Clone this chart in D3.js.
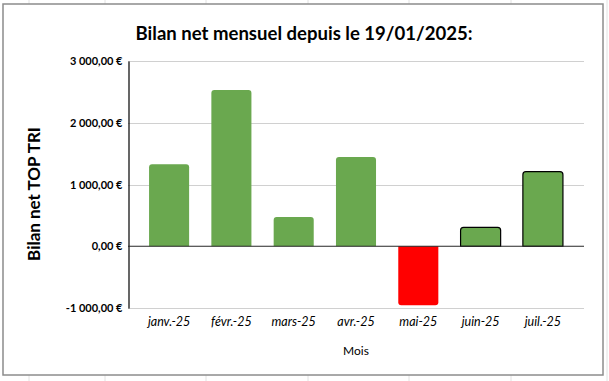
<!DOCTYPE html>
<html><head><meta charset="utf-8">
<script src="https://cdn.jsdelivr.net/npm/d3@7"></script>
<style>body{margin:0;background:#fff}svg{display:block}</style>
</head><body>
<script>
const months = ["janv.-25","févr.-25","mars-25","avr.-25","mai-25","juin-25","juil.-25"];
const values = [1327, 2530, 474, 1445, -956, 307, 1207];
const outlined = [false,false,false,false,false,true,true];
const yTicks = [-1000, 0, 1000, 2000, 3000];
const title = "Bilan net mensuel depuis le 19/01/2025:";
const yTitle = "Bilan net TOP TRI";
const xTitle = "Mois";

(function(){
const W = 609, H = 381;
const svg = d3.select("body").append("svg").attr("width", W).attr("height", H);
const font = "Lato, 'Open Sans', sans-serif";

const sheetX = [29, 105, 206, 308, 409, 511, 607];
sheetX.forEach(x => {
  svg.append("line").attr("x1", x).attr("x2", x).attr("y1", 0).attr("y2", H)
    .attr("stroke", "#e2e2e2").attr("stroke-width", 1);
});
svg.append("rect").attr("x", 3).attr("y", 4).attr("width", 600).attr("height", 371)
  .attr("fill", "#fff").attr("stroke", "#8c8c8c").attr("stroke-width", 1.5);

const pLeft = 128, pRight = 584, pTop = 61, pBottom = 308;
const y = d3.scaleLinear().domain([-1000, 3000]).range([pBottom, pTop]);
const x = d3.scaleBand().domain(months).range([pLeft, pRight]).paddingInner(0.357).paddingOuter(0.338);

const fmt = v => {
  const s = d3.format(",.2f")(Math.abs(v)).replace(/,/g, " ").replace(".", ",");
  return (v < 0 ? "-" : "") + s + " €";
};

svg.append("g").selectAll("line").data(yTicks.filter(d => d !== 0)).join("line")
  .attr("x1", pLeft).attr("x2", pRight)
  .attr("y1", d => Math.round(y(d)) + 0.5).attr("y2", d => Math.round(y(d)) + 0.5)
  .attr("stroke", "#d0d0d0").attr("stroke-width", 1);

const yAxis = svg.append("g").attr("transform", `translate(${pLeft + 0.5},0)`)
  .call(d3.axisLeft(y).tickValues(yTicks).tickFormat(fmt).tickSize(0).tickPadding(6));
yAxis.select(".domain").attr("stroke", "#000").attr("stroke-width", 1.2);
yAxis.selectAll("text").attr("font-family", font).attr("font-size", 11).attr("font-weight", "bold").attr("fill", "#000");

function barPath(xx, w, y0, y1, r) {
  const up = y1 < y0;
  const t = Math.min(y0, y1), b = Math.max(y0, y1);
  r = Math.min(r, (b - t) / 2);
  if (up) {
    return `M${xx},${b}V${t + r}Q${xx},${t} ${xx + r},${t}H${xx + w - r}Q${xx + w},${t} ${xx + w},${t + r}V${b}Z`;
  } else {
    return `M${xx},${t}V${b - r}Q${xx},${b} ${xx + r},${b}H${xx + w - r}Q${xx + w},${b} ${xx + w},${b - r}V${t}Z`;
  }
}
svg.append("g").selectAll("path").data(months).join("path")
  .attr("d", (m, i) => barPath(x(m), x.bandwidth(), y(0), y(values[i]), 3))
  .attr("fill", (m, i) => values[i] < 0 ? "#ff0000" : "#6aa84f")
  .attr("stroke", (m, i) => outlined[i] ? "#000" : "none")
  .attr("stroke-width", 1.2);

svg.append("line").attr("x1", pLeft).attr("x2", pRight)
  .attr("y1", y(0)).attr("y2", y(0)).attr("stroke", "#262626").attr("stroke-width", 1.2);

const xAxis = svg.append("g").attr("transform", `translate(0,${pBottom})`)
  .call(d3.axisBottom(x).tickSize(0).tickPadding(9));
xAxis.select(".domain").remove();
xAxis.selectAll("text").attr("font-family", font).attr("font-size", 12.5).attr("font-style", "italic").attr("fill", "#000");

const t = svg.append("text").attr("x", 304).attr("y", 40).attr("text-anchor", "middle")
  .attr("font-family", font).attr("font-size", 18).attr("font-weight", "bold").attr("fill", "#000").text(title);
const tl = t.node().getComputedTextLength();
if (tl > 0) t.attr("font-size", 18 * 337 / tl);

svg.append("text").attr("transform", "translate(40,194) rotate(-90)").attr("text-anchor", "middle")
  .attr("font-family", font).attr("font-size", 17).attr("font-weight", "bold").attr("fill", "#000").text(yTitle);

svg.append("text").attr("x", (pLeft + pRight) / 2).attr("y", 355).attr("text-anchor", "middle")
  .attr("font-family", font).attr("font-size", 12).attr("fill", "#000").text(xTitle);
})();
</script>
</body></html>
